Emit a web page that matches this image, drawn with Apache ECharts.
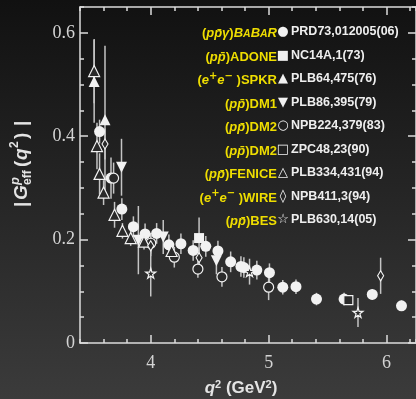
<!DOCTYPE html>
<html>
<head>
<meta charset="utf-8">
<script src="https://cdn.jsdelivr.net/npm/echarts@6/dist/echarts.min.js"></script>
<style>
  html, body { margin: 0; padding: 0; background: #222; }
  #chart { width: 416px; height: 399px; }
</style>
</head>
<body>
<div id="chart"></div>
<script>
// [q2, |G|, error]
const babar = [
  [3.566, 0.409, 0.023], [3.663, 0.319, 0.04], [3.755, 0.259, 0.021], [3.853, 0.225, 0.02],
  [3.952, 0.211, 0.02], [4.05, 0.212, 0.02], [4.154, 0.19, 0.02], [4.256, 0.192, 0.02],
  [4.36, 0.179, 0.02], [4.467, 0.187, 0.02], [4.57, 0.178, 0.02], [4.678, 0.157, 0.02],
  [4.765, 0.148, 0.02], [4.79, 0.146, 0.02], [4.9, 0.141, 0.018], [5.007, 0.136, 0.018],
  [5.12, 0.108, 0.014], [5.232, 0.109, 0.014], [5.406, 0.085, 0.012], [5.64, 0.085, 0.012],
  [5.879, 0.094, 0.01], [6.127, 0.072, 0.01]
];
const adone = [[4.41, 0.203, 0.04]];
const spkr = [[3.52, 0.506, 0.08], [3.612, 0.432, 0.143]];
const dm1 = [[3.752, 0.34, 0.055], [3.895, 0.199, 0.066], [4.106, 0.205, 0.033], [4.557, 0.159, 0.026]];
const dm2a = [[3.685, 0.319, 0.03], [4.0, 0.193, 0.02], [4.2, 0.166, 0.02], [4.4, 0.143, 0.017], [4.604, 0.128, 0.019], [5.0, 0.108, 0.025]];
const dm2b = [[5.676, 0.083, 0.008]];
const fenice = [
  [3.52, 0.526, 0.062], [3.544, 0.381, 0.045], [3.566, 0.327, 0.04], [3.6, 0.291, 0.024],
  [3.693, 0.248, 0.025], [3.76, 0.217, 0.015], [3.83, 0.203, 0.015], [3.943, 0.196, 0.015],
  [4.177, 0.178, 0.015]
];
const wire = [[3.612, 0.385, 0.03], [4.0, 0.188, 0.02], [4.41, 0.165, 0.02], [5.95, 0.13, 0.035]];
const bes = [[4.0, 0.135, 0.045], [4.838, 0.138, 0.025], [5.758, 0.059, 0.028]];

const xMajor = [4, 5, 6];
const yMajor = [0, 0.2, 0.4, 0.6];

// beam part (inside the brackets) and experiment name
const srcBeams = ['pp̄γ', 'pp̄', 'e+e-', 'pp̄', 'pp̄', 'pp̄', 'pp̄', 'e+e-', 'pp̄'];
const srcNames = ['BABAR', 'ADONE', 'SPKR', 'DM1', 'DM2', 'DM2', 'FENICE', 'WIRE', 'BES'];
const refLabels = ['PRD73,012005(06)', 'NC14A,1(73)', 'PLB64,475(76)', 'PLB86,395(79)', 'NPB224,379(83)', 'ZPC48,23(90)', 'PLB334,431(94)', 'NPB411,3(94)', 'PLB630,14(05)'];
const legendGlyphs = ['●', '■', '▲', '▼', '○', '□', '△', '◊', '☆'];

const WHITE = '#f2f2f2';
const OPEN_FILL = '#2a2a2a';
const AXIS = '#dcdcdc';
const YELLOW = '#eedd00';
const starPath = 'path://M50,0 L61,35 L98,35 L68,57 L79,91 L50,70 L21,91 L32,57 L2,35 L39,35 Z';

const sets = [
  { data: babar, symbol: 'circle', size: 11, open: false },
  { data: adone, symbol: 'rect', size: 10, open: false },
  { data: spkr, symbol: 'triangle', size: 11, open: false },
  { data: dm1, symbol: 'triangle', size: 11, open: false, rotate: 180 },
  { data: dm2a, symbol: 'circle', size: 10, open: true },
  { data: dm2b, symbol: 'rect', size: 9, open: true },
  { data: fenice, symbol: 'triangle', size: 11, open: true },
  { data: wire, symbol: 'diamond', size: [6, 10], open: true },
  { data: bes, symbol: starPath, size: 10, open: true }
];

function errBars(data) {
  return {
    type: 'custom',
    data: data,
    z: 1,
    silent: true,
    renderItem: function (params, api) {
      const x = api.value(0), y = api.value(1), e = api.value(2);
      const p1 = api.coord([x, y - e]);
      const p2 = api.coord([x, y + e]);
      return {
        type: 'line',
        shape: { x1: p1[0], y1: p1[1], x2: p2[0], y2: p2[1] },
        style: { stroke: '#c4c4c4', lineWidth: 1.5 }
      };
    }
  };
}

let series = [];
sets.forEach(function (s) {
  series.push(errBars(s.data));
});
sets.forEach(function (s) {
  series.push({
    type: 'scatter',
    data: s.data.map(function (d) { return [d[0], d[1]]; }),
    symbol: s.symbol,
    symbolSize: s.size,
    symbolRotate: s.rotate || 0,
    z: 3,
    itemStyle: s.open
      ? { color: OPEN_FILL, borderColor: WHITE, borderWidth: 1.2, opacity: 1 }
      : { color: WHITE, opacity: 1 }
  });
});

function srcRich(beam, name) {
  let s = '{n|(}';
  if (beam === 'e+e-') {
    s += '{i|e}{u|+}{i|e}{u|−}{n| )}';
  } else {
    s += '{i|' + beam.replace('p̄', 'p\u0304') + '}{n|)}';
  }
  if (name === 'BABAR') {
    s += '{i|B}{is|A}{i|B}{is|A}{i|R}';
  } else {
    s += '{n|' + name + '}';
  }
  return s;
}

const legendFont = 'Liberation Sans, Arial, sans-serif';
let graphic = [];
srcNames.forEach(function (name, i) {
  const y = 32 + i * 23.5;
  graphic.push({
    type: 'text', x: 277, y: y,
    style: {
      text: srcRich(srcBeams[i], name), align: 'right', verticalAlign: 'middle',
      rich: {
        n: { fill: YELLOW, fontSize: 13, fontWeight: 'bold', fontFamily: legendFont, lineHeight: 16, verticalAlign: 'bottom' },
        i: { fill: YELLOW, fontSize: 13, fontWeight: 'bold', fontStyle: 'italic', fontFamily: legendFont, lineHeight: 16, verticalAlign: 'bottom' },
        is: { fill: YELLOW, fontSize: 10.5, fontWeight: 'bold', fontStyle: 'italic', fontFamily: legendFont, verticalAlign: 'bottom' },
        u: { fill: YELLOW, fontSize: 10, fontWeight: 'bold', fontFamily: 'DejaVu Sans', verticalAlign: 'top', lineHeight: 10 }
      }
    }
  });
  graphic.push({
    type: 'text', x: 283, y: y,
    style: { text: legendGlyphs[i], align: 'center', verticalAlign: 'middle', fill: WHITE, fontSize: 13, fontFamily: 'DejaVu Sans' }
  });
  graphic.push({
    type: 'text', x: 291, y: y,
    style: { text: refLabels[i], align: 'left', verticalAlign: 'middle', fill: '#eeeeee', fontSize: 12.5, fontWeight: 'bold', fontFamily: legendFont }
  });
});

// y axis title, rotated
const tf = 'Liberation Sans, Arial, sans-serif';
function tt(text, x, y, size, italic) {
  return {
    type: 'text', x: x, y: y,
    style: { text: text, fill: '#e4e4e4', fontSize: size, fontWeight: 'bold', fontStyle: italic ? 'italic' : 'normal', fontFamily: tf, verticalAlign: 'middle', align: 'left' }
  };
}
graphic.push({
  type: 'group', x: 22, y: 162, rotation: Math.PI / 2,
  children: [
    tt('|', -45, 0, 19, false),
    tt('G', -38, 0, 19, true),
    tt('p', -23, -7, 13, true),
    tt('eff', -23, 6, 12, false),
    tt('(', -5, 0, 19, false),
    tt('q', 2, 0, 19, true),
    tt('2', 14, -7, 12, false),
    tt(')', 23, 0, 19, false),
    tt('|', 36, 0, 19, false)
  ]
});
// x axis title
graphic.push({
  type: 'text', x: 241, y: 388,
  style: {
    text: '{q|q}{s|2}{n| (GeV}{s|2}{n|)}', align: 'center', verticalAlign: 'middle',
    rich: {
      q: { fill: '#e4e4e4', fontSize: 17, fontWeight: 'bold', fontStyle: 'italic', fontFamily: tf, verticalAlign: 'bottom' },
      n: { fill: '#e4e4e4', fontSize: 17, fontWeight: 'bold', fontFamily: tf, verticalAlign: 'bottom' },
      s: { fill: '#e4e4e4', fontSize: 11, fontWeight: 'bold', fontFamily: tf, verticalAlign: 'top' }
    }
  }
});

const lineStyle = { color: AXIS, width: 1.5 };
function xAx(pos, major) {
  return {
    type: 'value', min: 3.4, max: 6.25, position: pos,
    interval: major ? undefined : 0.2,
    axisLine: { show: !major, onZero: false, lineStyle: lineStyle },
    axisTick: major
      ? { inside: true, length: 8, customValues: xMajor, lineStyle: lineStyle }
      : { inside: true, length: 4, lineStyle: lineStyle },
    axisLabel: (major && pos === 'bottom')
      ? { customValues: xMajor, color: '#d4d4d4', fontSize: 18, fontFamily: 'Liberation Serif, Times New Roman, serif', margin: 11 }
      : { show: false },
    splitLine: { show: false }
  };
}
function yAx(pos, major) {
  return {
    type: 'value', min: 0, max: 0.65, position: pos,
    interval: major ? undefined : 0.05,
    axisLine: { show: !major, onZero: false, lineStyle: lineStyle },
    axisTick: major
      ? { inside: true, length: 8, customValues: yMajor, lineStyle: lineStyle }
      : { inside: true, length: 4, lineStyle: lineStyle },
    axisLabel: (major && pos === 'left')
      ? { customValues: yMajor, color: '#d4d4d4', fontSize: 18, fontFamily: 'Liberation Serif, Times New Roman, serif', margin: 5 }
      : { show: false },
    splitLine: { show: false }
  };
}

const chart = echarts.init(document.getElementById('chart'));
chart.setOption({
  animation: false,
  backgroundColor: {
    type: 'linear', x: 0, y: 0, x2: 0, y2: 1,
    colorStops: [{ offset: 0, color: '#111111' }, { offset: 1, color: '#3b3b3b' }]
  },
  grid: { left: 80, top: 7, width: 337.5, height: 336, containLabel: false },
  xAxis: [xAx('bottom', false), xAx('bottom', true), xAx('top', false), xAx('top', true)],
  yAxis: [yAx('left', false), yAx('left', true), yAx('right', false), yAx('right', true)],
  series: series,
  graphic: graphic
});
</script>
</body>
</html>
